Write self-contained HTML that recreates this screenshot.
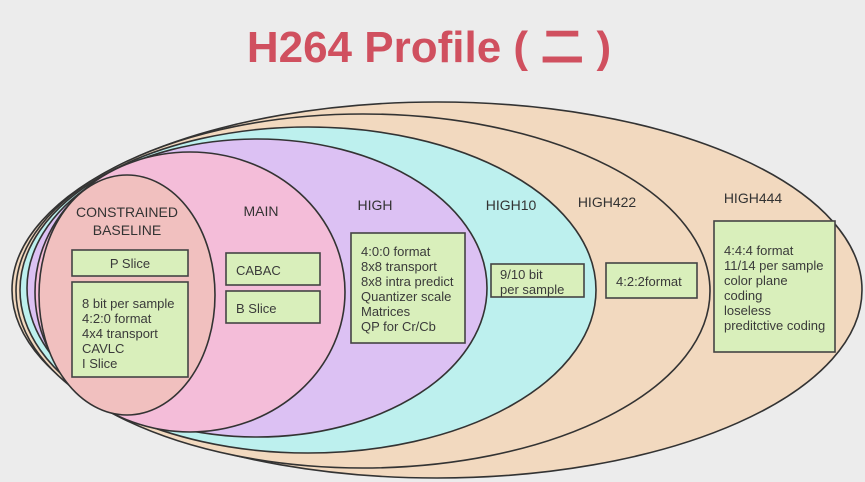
<!DOCTYPE html>
<html><head><meta charset="utf-8"><style>
html,body{margin:0;padding:0;background:#ececec;}
svg{display:block;}
text{font-family:"Liberation Sans","Noto Sans CJK SC",sans-serif;fill:#3a3a3a;}
.t{font-size:13px;}
.h{font-size:14px;fill:#333;}
</style></head><body>
<svg width="865" height="482" viewBox="0 0 865 482" xmlns="http://www.w3.org/2000/svg">
<rect width="865" height="482" fill="#ececec"/>
<text x="429" y="62" text-anchor="middle" style="font-size:44px;font-weight:bold;fill:#d0505f;font-family:'Liberation Sans','Noto Sans CJK SC',sans-serif">H264 Profile ( 二 )</text>
<g stroke="#333" stroke-width="1.6">
<ellipse cx="437" cy="290" rx="425" ry="188" fill="#f2d9bf"/>
<ellipse cx="363" cy="291" rx="347" ry="177" fill="#f2d9bf"/>
<ellipse cx="308" cy="290" rx="288" ry="163" fill="#bdf0ee"/>
<ellipse cx="257" cy="288" rx="230" ry="149" fill="#dcc1f3"/>
<ellipse cx="190" cy="292" rx="155" ry="140" fill="#f4bdd9"/>
<ellipse cx="127" cy="295" rx="88" ry="120" fill="#f1c0bf"/>
</g>
<g fill="#d9efbb" stroke="#444" stroke-width="1.6">
<rect x="72" y="250" width="116" height="26"/>
<rect x="72" y="282" width="116" height="95"/>
<rect x="226" y="253" width="94" height="32"/>
<rect x="226" y="291" width="94" height="32"/>
<rect x="351" y="233" width="114" height="110"/>
<rect x="491" y="264" width="93" height="33"/>
<rect x="606" y="263" width="91" height="35"/>
<rect x="714" y="221" width="121" height="131"/>
</g>
<text class="h" x="127" y="217" text-anchor="middle">CONSTRAINED</text>
<text class="h" x="127" y="235" text-anchor="middle">BASELINE</text>
<text class="h" x="261" y="216" text-anchor="middle">MAIN</text>
<text class="h" x="375" y="210" text-anchor="middle">HIGH</text>
<text class="h" x="511" y="210" text-anchor="middle">HIGH10</text>
<text class="h" x="607" y="207" text-anchor="middle">HIGH422</text>
<text class="h" x="753" y="203" text-anchor="middle">HIGH444</text>
<text class="t" x="130" y="268" text-anchor="middle">P Slice</text>
<text class="t" x="82" y="308">8 bit per sample</text>
<text class="t" x="82" y="323">4:2:0 format</text>
<text class="t" x="82" y="338">4x4 transport</text>
<text class="t" x="82" y="353">CAVLC</text>
<text class="t" x="82" y="368">I Slice</text>
<text class="t" x="236" y="275">CABAC</text>
<text class="t" x="236" y="313">B Slice</text>
<text class="t" x="361" y="256">4:0:0 format</text>
<text class="t" x="361" y="271">8x8 transport</text>
<text class="t" x="361" y="286">8x8 intra predict</text>
<text class="t" x="361" y="301">Quantizer scale</text>
<text class="t" x="361" y="316">Matrices</text>
<text class="t" x="361" y="331">QP for Cr/Cb</text>
<text class="t" x="500" y="279">9/10 bit</text>
<text class="t" x="500" y="294">per sample</text>
<text class="t" x="616" y="286">4:2:2format</text>
<text class="t" x="724" y="255">4:4:4 format</text>
<text class="t" x="724" y="270">11/14 per sample</text>
<text class="t" x="724" y="285">color plane</text>
<text class="t" x="724" y="300">coding</text>
<text class="t" x="724" y="315">loseless</text>
<text class="t" x="724" y="330">preditctive coding</text>
</svg>
</body></html>
